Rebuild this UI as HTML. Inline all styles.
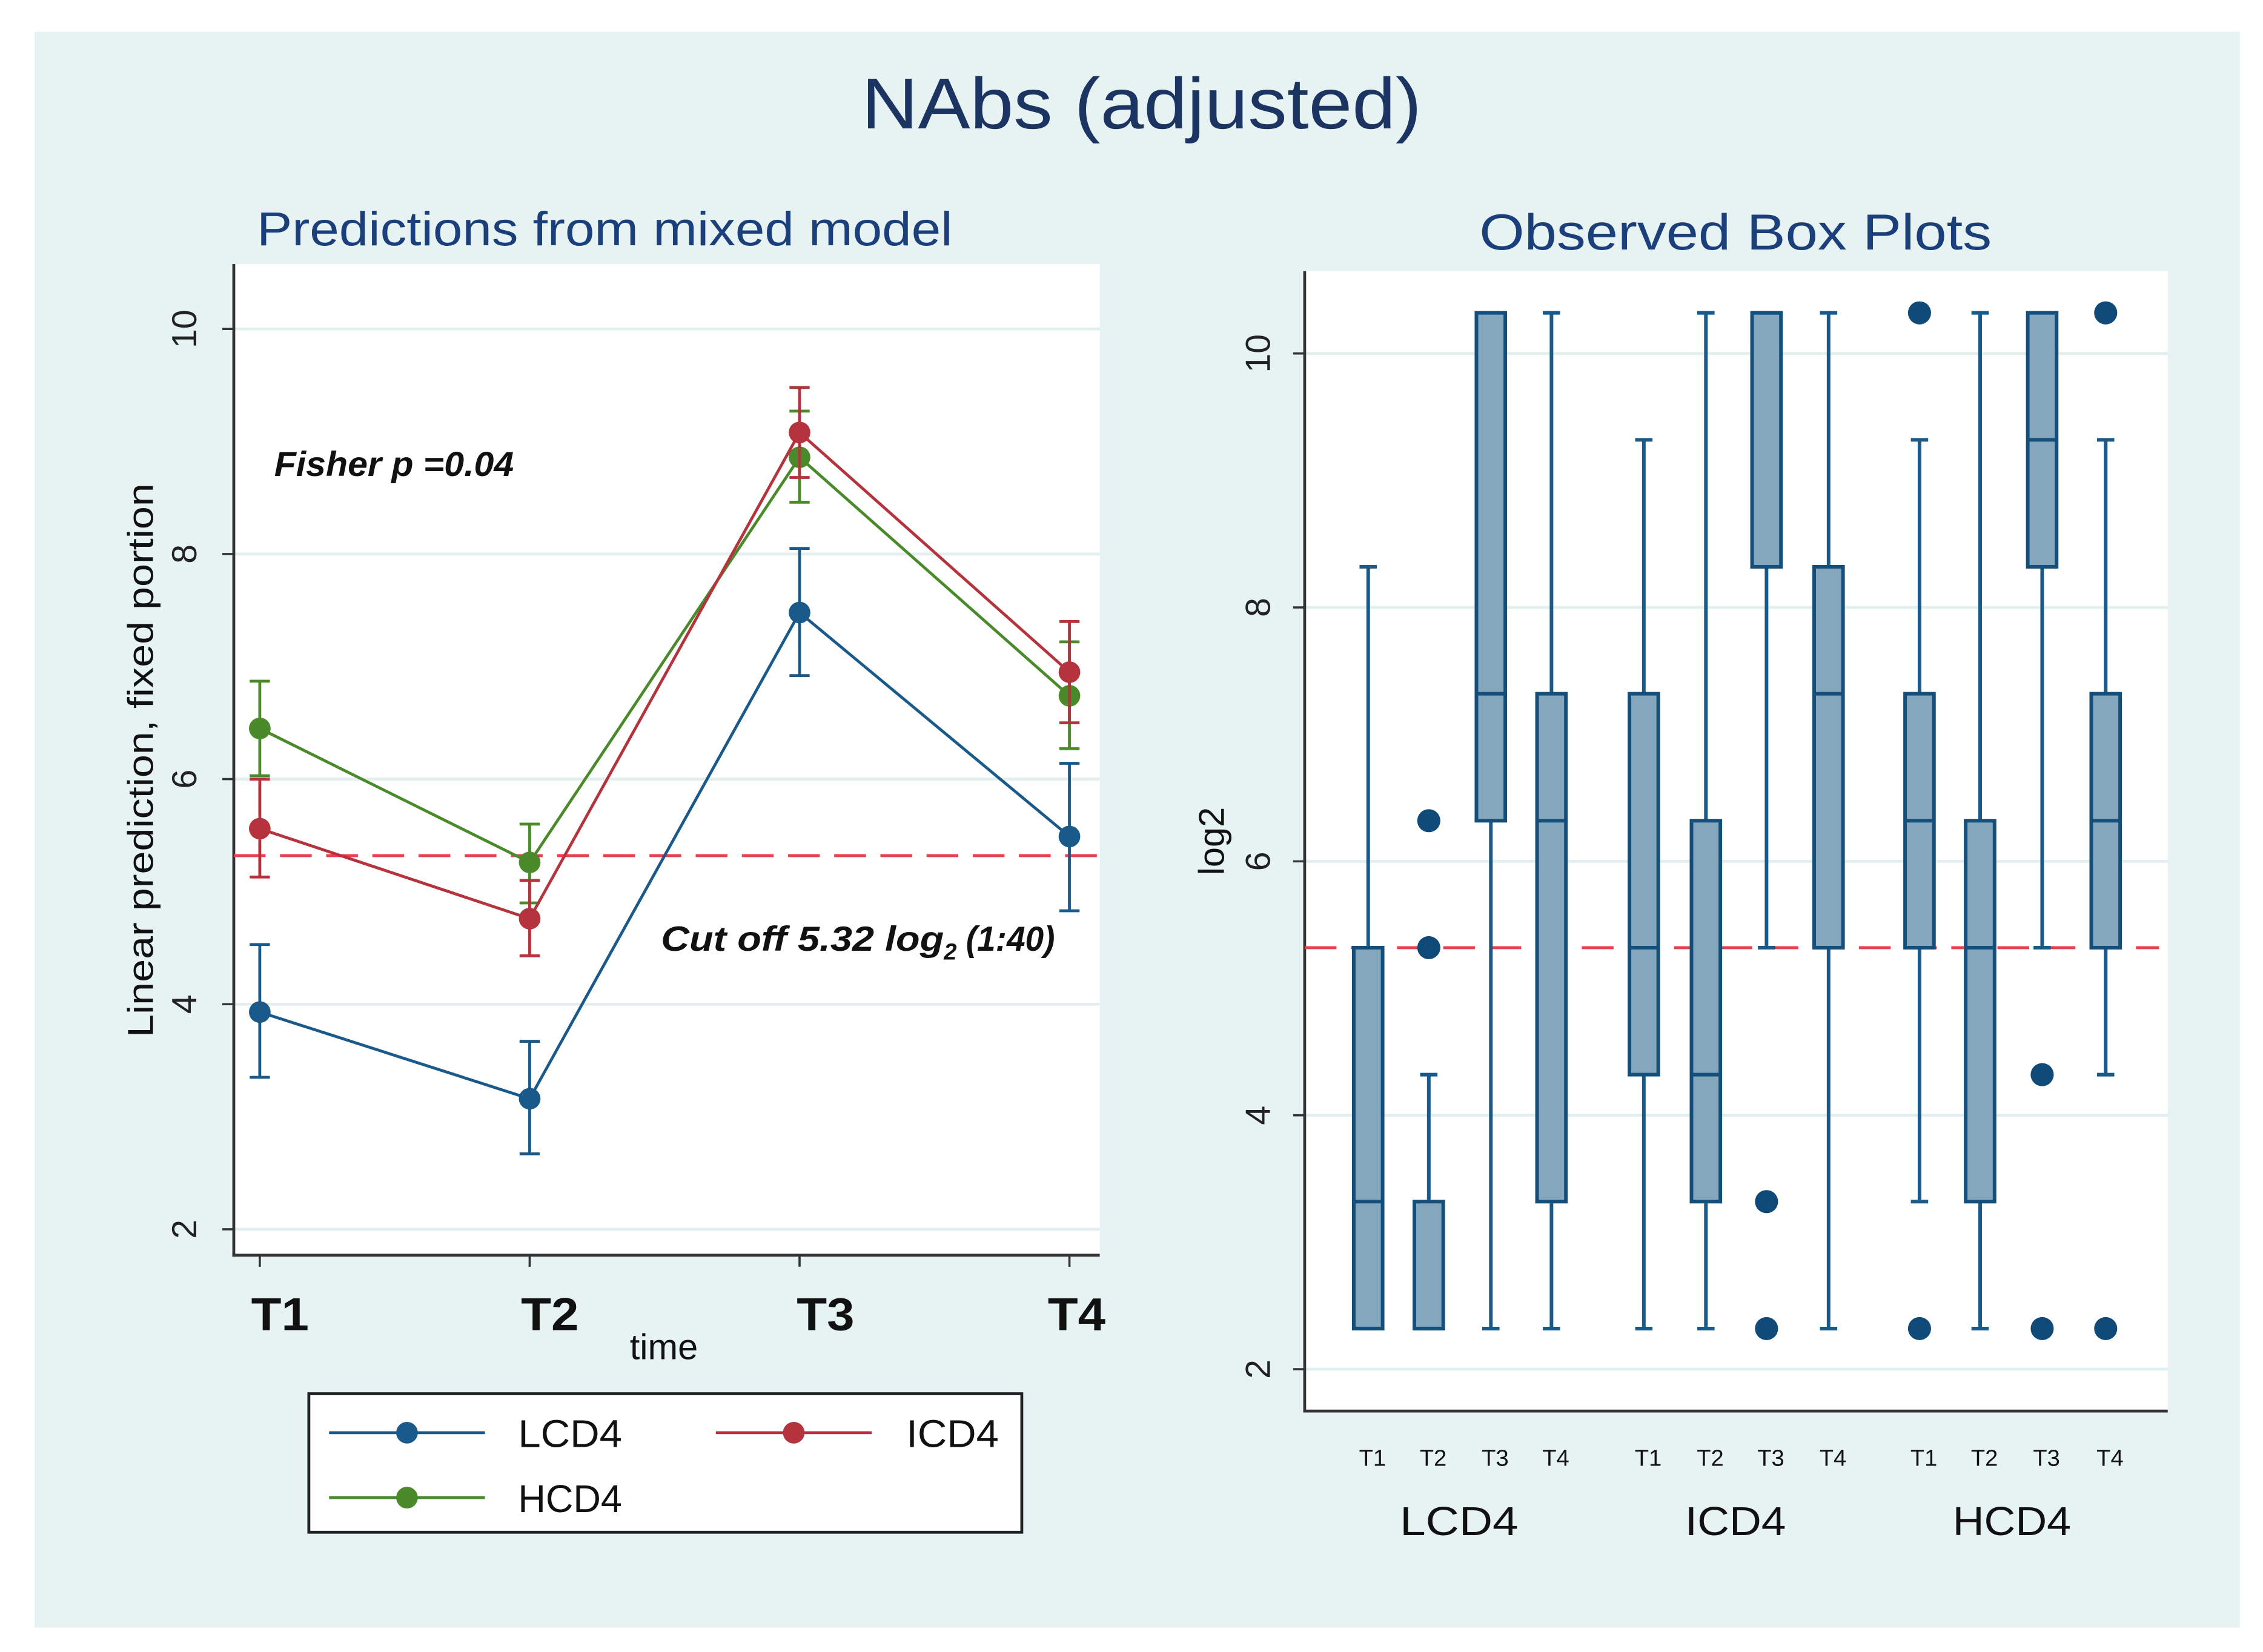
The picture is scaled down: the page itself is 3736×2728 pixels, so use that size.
<!DOCTYPE html>
<html><head><meta charset="utf-8"><style>
html,body{margin:0;padding:0;background:#fff;}
svg{display:block;font-family:"Liberation Sans",sans-serif;}
</style></head><body>
<svg id="c" width="3736" height="2728" viewBox="0 0 1568 1145" preserveAspectRatio="none" xmlns="http://www.w3.org/2000/svg">
<rect x="24" y="22" width="1528" height="1106" fill="#e7f2f2"/>
<text x="597" y="89" textLength="388" lengthAdjust="spacingAndGlyphs" font-size="50" fill="#1b3462">NAbs (adjusted)</text>
<text x="178" y="170" textLength="482" lengthAdjust="spacingAndGlyphs" font-size="33" fill="#1b3f7a">Predictions from mixed model</text>
<text x="1025" y="173" textLength="355" lengthAdjust="spacingAndGlyphs" font-size="35" fill="#1b3f7a">Observed Box Plots</text>
<rect x="162" y="183" width="600" height="687" fill="#fff"/>
<rect x="904" y="188" width="598" height="790" fill="#fff"/>
<g id="left"></g>
<g id="right"></g>
</svg>
<script>
const NS="http://www.w3.org/2000/svg";
// ---- left chart data ----
const timeLabels=["T1","T2","T3","T4"];
const seriesNames=["LCD4","ICD4","HCD4"];
const seriesColors=["#1a5a8a","#b4333d","#4a8a2a"];
const lcd4Mean=[3.93,3.16,7.48,5.49];
const lcd4Lo=[3.35,2.67,6.92,4.83];
const lcd4Hi=[4.53,3.67,8.05,6.14];
const icd4Mean=[5.56,4.76,9.08,6.95];
const icd4Lo=[5.13,4.43,8.68,6.50];
const icd4Hi=[6.00,5.10,9.48,7.40];
const hcd4Mean=[6.45,5.26,8.86,6.74];
const hcd4Lo=[6.03,4.90,8.46,6.27];
const hcd4Hi=[6.87,5.60,9.27,7.22];
const leftYTicks=[2,4,6,8,10];
const cutoff=5.32;
// ---- right chart data ----
const groupNames=["LCD4","ICD4","HCD4"];
const boxMin=[2.32,2.32,2.32,2.32, 2.32,2.32,5.32,2.32, 3.32,2.32,5.32,4.32];
const boxQ1=[2.32,2.32,6.32,3.32, 4.32,3.32,8.32,5.32, 5.32,3.32,8.32,5.32];
const boxMed=[3.32,2.32,7.32,6.32, 5.32,4.32,10.32,7.32, 6.32,5.32,9.32,6.32];
const boxQ3=[5.32,3.32,10.32,7.32, 7.32,6.32,10.32,8.32, 7.32,6.32,10.32,7.32];
const boxMax=[8.32,4.32,10.32,10.32, 9.32,10.32,10.32,10.32, 9.32,10.32,10.32,9.32];
const boxOutliers=[[],[5.32,6.32],[],[], [],[],[3.32,2.32],[], [10.32,2.32],[],[4.32,2.32],[10.32,2.32]];
const rightYTicks=[2,4,6,8,10];

function mk(tag,attrs,parent,text){const e=document.createElementNS(NS,tag);for(const k in attrs)e.setAttribute(k,attrs[k]);if(text!==undefined)e.textContent=text;parent.appendChild(e);return e;}

const L=document.getElementById('left');
const ly=v=>852-(v-2)*78;
const lx=i=>180+i*187;
leftYTicks.forEach(t=>{
  const g=mk('line',{x1:162,x2:762,y1:ly(t),y2:ly(t),stroke:"#e3efef","stroke-width":2},L);
  
  const tk=mk('line',{x1:154,x2:162,y1:ly(t),y2:ly(t),stroke:"#333","stroke-width":1.5},L);
  
  const tx=mk('text',{x:0,y:0,transform:`translate(136,${ly(t)}) rotate(-90)`,"text-anchor":"middle","font-size":24,fill:"#222"},L,String(t));
  
});
let a=mk('line',{x1:162,x2:162,y1:183,y2:871,stroke:"#333","stroke-width":2},L);

a=mk('line',{x1:161,x2:762,y1:870,y2:870,stroke:"#333","stroke-width":2},L);

timeLabels.forEach((t,i)=>{
  const tk=mk('line',{x1:lx(i),x2:lx(i),y1:870,y2:878,stroke:"#333","stroke-width":1.5},L);
  
  const tx=mk('text',{x:lx(i)+(i==3?5:i==2?18:14),y:922,"text-anchor":"middle","font-size":32,"font-weight":"bold",textLength:40,lengthAdjust:"spacingAndGlyphs",fill:"#111"},L,t);
  
});
a=mk('text',{x:460,y:942,"text-anchor":"middle","font-size":25,fill:"#111"},L,"time");

a=mk('text',{x:0,y:0,transform:"translate(106,527) rotate(-90)","text-anchor":"middle","font-size":25,textLength:384,lengthAdjust:"spacingAndGlyphs",fill:"#111"},L,"Linear prediction, fixed portion");

a=mk('line',{x1:162,x2:762,y1:ly(cutoff),y2:ly(cutoff),stroke:"#e8404a","stroke-width":2,"stroke-dasharray":"22,10"},L);

a=mk('text',{x:190,y:330,"font-size":24,"font-style":"italic","font-weight":"bold",textLength:166,lengthAdjust:"spacingAndGlyphs",fill:"#111"},L,"Fisher p =0.04");

a=mk('text',{x:458,y:659,"font-size":24,"font-style":"italic","font-weight":"bold",fill:"#111"},L);
a.innerHTML='<tspan textLength="196" lengthAdjust="spacingAndGlyphs">Cut off 5.32 log</tspan><tspan font-size="16" dy="6">2</tspan><tspan dy="-6" textLength="68" lengthAdjust="spacingAndGlyphs"> (1:40)</tspan>';

const means=[lcd4Mean,icd4Mean,hcd4Mean],los=[lcd4Lo,icd4Lo,hcd4Lo],his=[lcd4Hi,icd4Hi,hcd4Hi];
[0,2,1].forEach(s=>{
  const c=seriesColors[s];
  const pts=means[s].map((v,i)=>lx(i)+","+ly(v)).join(" ");
  const pl=mk('polyline',{points:pts,fill:"none",stroke:c,"stroke-width":2},L);
  
  means[s].forEach((v,i)=>{
    const e=mk('path',{d:`M${lx(i)},${ly(los[s][i])}V${ly(his[s][i])}M${lx(i)-7},${ly(los[s][i])}h14M${lx(i)-7},${ly(his[s][i])}h14`,stroke:c,"stroke-width":2,fill:"none"},L);
    
    const p=mk('circle',{cx:lx(i),cy:ly(v),r:7.5,fill:c},L);
    
  });
});
a=mk('rect',{x:214,y:966,width:494,height:96,fill:"#fff",stroke:"#222","stroke-width":2},L);

const legPos=[[228,993],[496,993],[228,1038]];
seriesNames.forEach((n,s)=>{
  const [x,y]=legPos[s];
  const ln=mk('line',{x1:x,x2:x+108,y1:y,y2:y,stroke:seriesColors[s],"stroke-width":2},L);
  
  const ci=mk('circle',{cx:x+54,cy:y,r:7.5,fill:seriesColors[s]},L);
  
  const t=mk('text',{x:s==1?x+132:x+131,y:y+10,"font-size":27,textLength:(s==1?64:72),lengthAdjust:"spacingAndGlyphs",fill:"#111"},L,n);
  
});

const R=document.getElementById('right');
const ry=v=>949-(v-2)*88;
const centers=[948,990,1033,1075,1139,1182,1224,1267,1330,1372,1415,1459];
const bc="#1a5a8a";
rightYTicks.forEach(t=>{
  const g=mk('line',{x1:904,x2:1502,y1:ry(t),y2:ry(t),stroke:"#e3efef","stroke-width":2},R);
  
  const tk=mk('line',{x1:896,x2:904,y1:ry(t),y2:ry(t),stroke:"#333","stroke-width":1.5},R);
  
  const tx=mk('text',{x:0,y:0,transform:`translate(880,${ry(t)}) rotate(-90)`,"text-anchor":"middle","font-size":24,fill:"#222"},R,String(t));
  
});
a=mk('line',{x1:904,x2:904,y1:188,y2:979,stroke:"#333","stroke-width":2},R);

a=mk('line',{x1:903,x2:1502,y1:978,y2:978,stroke:"#333","stroke-width":2},R);

a=mk('text',{x:0,y:0,transform:"translate(848,583) rotate(-90)","text-anchor":"middle","font-size":25,fill:"#111"},R,"log2");

a=mk('line',{x1:904,x2:1496,y1:ry(cutoff),y2:ry(cutoff),stroke:"#e8404a","stroke-width":2,"stroke-dasharray":"22,10"},R);

boxMin.forEach((_,i)=>{
  const x=centers[i],w=10;
  const wk=mk('path',{d:`M${x},${ry(boxMin[i])}V${ry(boxMax[i])}M${x-6},${ry(boxMin[i])}h12M${x-6},${ry(boxMax[i])}h12`,stroke:bc,"stroke-width":2.5,fill:"none"},R);
  
  const b=mk('rect',{x:x-w,y:ry(boxQ3[i]),width:2*w,height:Math.max(ry(boxQ1[i])-ry(boxQ3[i]),1),fill:"#84a7bd",stroke:"#134f7a","stroke-width":2.5},R);
  
  const m=mk('line',{x1:x-w,x2:x+w,y1:ry(boxMed[i]),y2:ry(boxMed[i]),stroke:"#134f7a","stroke-width":2.5},R);
  
  boxOutliers[i].forEach(o=>{
    const c=mk('circle',{cx:x,cy:ry(o),r:8,fill:"#0f4a78"},R);
    
  });
  const t=mk('text',{x:x+3,y:1016,"text-anchor":"middle","font-size":16,fill:"#111"},R,timeLabels[i%4]);
  
});
groupNames.forEach((g,k)=>{
  const t=mk('text',{x:1011+k*191.5,y:1064,"text-anchor":"middle","font-size":28,textLength:(k==1?70:82),lengthAdjust:"spacingAndGlyphs",fill:"#111"},R,g);
  
});
</script>
</body></html>
